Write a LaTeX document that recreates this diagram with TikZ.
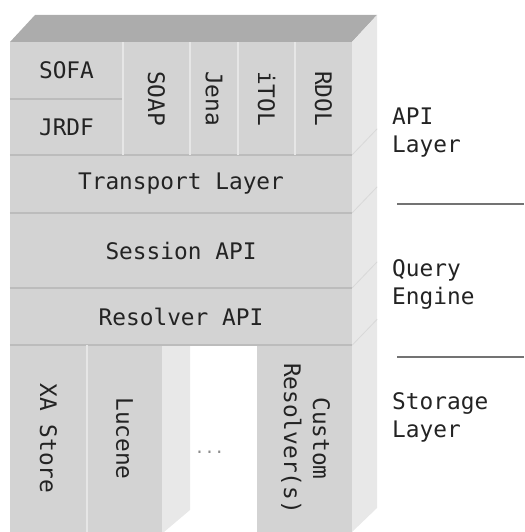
\documentclass[tikz,border=0pt]{standalone}
\usepackage{fontspec}
\usepackage{tikz}
\newfontfamily\blockfont{DejaVu Sans Mono}
\definecolor{blockfront}{RGB}{211,211,211}
\definecolor{blocktop}{RGB}{172,172,172}
\definecolor{blockside}{RGB}{232,232,232}
\definecolor{blockrule}{RGB}{188,188,188}
\definecolor{blockgap}{RGB}{230,230,230}
\definecolor{blockedge}{RGB}{216,216,216}
\definecolor{blocktext}{RGB}{35,35,35}
\tikzset{
    cell/.style 2 args={rectangle, fill=blockfront, inner sep=0pt, minimum width=#1pt, minimum height=#2pt,
        text=blocktext, font=\blockfont\fontsize{22.8}{29}\selectfont},
    hrule/.style={line width=1.8pt, blockrule},
    vrule/.style={line width=1.8pt, blockgap},
    edgeline/.style={line width=0.8pt, blockedge},
    sidelabel/.style={anchor=west, align=left, inner sep=0pt, text=blocktext,
        font=\blockfont\fontsize{22.8}{28}\selectfont},
    layerrule/.style={line width=1.5pt, black!55},
}

\begin{document}
\begin{tikzpicture}[x=1pt, y=-1pt]
    \useasboundingbox (0,0) rectangle (524,532);

    % top and right faces
    \fill[blocktop] (10,42) -- (35,15) -- (377,15) -- (352,42) -- cycle;
    \fill[blockside] (352,42) -- (377,15) -- (377,508) -- (352,532) -- cycle;
    \fill[blockside] (162,345) -- (190,345) -- (190,510) -- (164,532) -- (162,532) -- cycle;

    % API layer
    \node[cell={113}{57}] (sofa) at (66.5,70.5) {SOFA};
    \node[cell={113}{56}] (jrdf) at (66.5,127) {JRDF};
    \node[cell={67}{113}] (soap) at (156.5,98.5) {\rotatebox{-90}{SOAP}};
    \node[cell={48}{113}] (jena) at (214,98.5) {\rotatebox{-90}{Jena}};
    \node[cell={57}{113}] (itol) at (266.5,98.5) {\rotatebox{-90}{iTOL}};
    \node[cell={57}{113}] (rdol) at (323.5,98.5) {\rotatebox{-90}{RDOL}};

    % query engine
    \node[cell={342}{58}] (transport) at (181,184) {Transport Layer};
    \node[cell={342}{75}] (session) at (181,250.5) {Session API};
    \node[cell={342}{57}] (resolver) at (181,316.5) {Resolver API};

    % storage layer
    \node[cell={77}{187}] (xastore) at (48.5,438.5) {\rotatebox{-90}{XA Store}};
    \node[cell={75}{187}] (lucene) at (124.5,438.5) {\rotatebox{-90}{Lucene}};
    \node[cell={95}{187}] (custom) at (304.5,438.5)
        {\rotatebox{-90}{\begin{tabular}{@{}c@{}}Custom\\Resolver(s)\end{tabular}}};
    \node[anchor=base, inner sep=0pt, text=black!45, font=\blockfont\fontsize{16.5}{20}\selectfont]
        (more) at (209.5,453) {...};

    % dividers
    \draw[hrule] (sofa.south west) -- (sofa.south east);
    \foreach \row in {transport, session, resolver} {
        \draw[hrule] (\row.north west) -- (\row.north east);
    }
    \draw[hrule] (resolver.south west) -- (resolver.south east);
    \foreach \col in {soap, jena, itol, rdol, lucene} {
        \draw[vrule] (\col.north west) -- (\col.south west);
    }
    \foreach \row in {transport.north east, session.north east, resolver.north east, resolver.south east} {
        \draw[edgeline] (\row) -- ++(25,-26);
    }

    % layer labels
    \node[sidelabel] (apilabel) at (392,133) {API\\Layer};
    \node[sidelabel] (querylabel) at (392,284) {Query\\Engine};
    \node[sidelabel] (storagelabel) at (392,417) {Storage\\Layer};
    \draw[layerrule] (397,204) -- (524,204);
    \draw[layerrule] (397,357) -- (524,357);
\end{tikzpicture}
\end{document}
